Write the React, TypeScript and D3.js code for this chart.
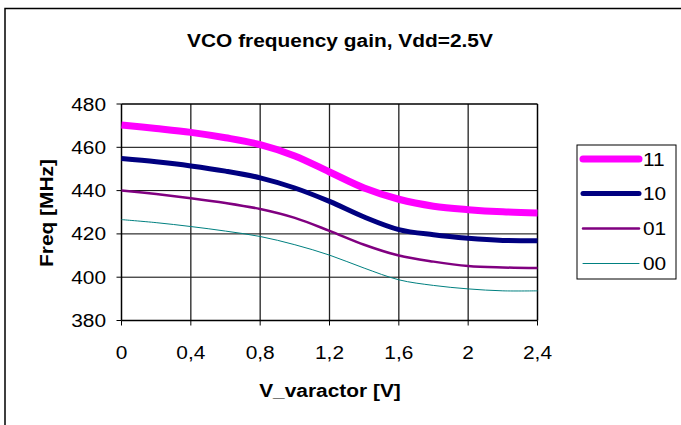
import * as d3 from 'd3';

const volts = [0, 0.2, 0.4, 0.6, 0.8, 1.0, 1.2, 1.4, 1.6, 1.8, 2.0, 2.2, 2.4];
const f11 = [470.3, 468.7, 466.9, 464.4, 461.2, 456.0, 448.6, 441.2, 436.0, 432.8, 431.2, 430.2, 429.7];
const f10 = [454.8, 453.3, 451.4, 449.0, 445.9, 441.2, 435.0, 427.8, 422.0, 419.6, 418.0, 417.0, 416.8];
const f01 = [440.0, 438.4, 436.5, 434.3, 431.5, 427.4, 421.4, 415.0, 410.0, 407.2, 405.2, 404.5, 404.2];
const f00 = [426.6, 425.2, 423.4, 421.3, 418.8, 415.0, 410.2, 404.2, 398.8, 396.2, 394.6, 393.7, 393.7];

const xTicks = [0, 0.4, 0.8, 1.2, 1.6, 2.0, 2.4];
const xTickLabels = ['0', '0,4', '0,8', '1,2', '1,6', '2', '2,4'];
const yTicks = [380, 400, 420, 440, 460, 480];

const series = [
  { name: '11', values: f11, color: '#ff00ff', width: 7 },
  { name: '10', values: f10, color: '#000080', width: 5 },
  { name: '01', values: f01, color: '#800080', width: 2.5 },
  { name: '00', values: f00, color: '#008080', width: 1 },
];

const W = 681;
const H = 425;
const plot = { left: 121.5, right: 537.5, top: 104, bottom: 320.5 };
const FONT = 'Liberation Sans, Arial, sans-serif';
const FS = 18.5;
const SX = 1.13;

function Label(props: {
  x: number;
  y: number;
  text: string;
  anchor?: string;
  bold?: boolean;
  rotate?: number;
}) {
  const { x, y, text, anchor = 'start', bold = false, rotate = 0 } = props;
  return (
    <text
      transform={`translate(${x},${y}) rotate(${rotate}) scale(${SX},1)`}
      textAnchor={anchor}
      fontFamily={FONT}
      fontSize={FS}
      fontWeight={bold ? 'bold' : 'normal'}
      fill="#000"
    >
      {text}
    </text>
  );
}

export default function App() {
  const x = d3.scaleLinear().domain([0, 2.4]).range([plot.left, plot.right]);
  const y = d3.scaleLinear().domain([380, 480]).range([plot.bottom, plot.top]);

  const line = d3
    .line<number>()
    .x((_, i) => x(volts[i]))
    .y((d) => y(d))
    .curve(d3.curveCatmullRom.alpha(0.5));

  const legendRows = [159, 193.5, 228.5, 263.5];

  return (
    <svg
      width={W}
      height={H}
      style={{ position: 'absolute', left: 0, top: 0, background: '#fff' }}
    >
      {/* chart area border */}
      <rect x={5} y={8.5} width={700} height={500} fill="#fff" stroke="#000" strokeWidth={1.5} />

      <Label x={340} y={47} text="VCO frequency gain, Vdd=2.5V" anchor="middle" bold />

      {/* grid */}
      {yTicks.slice(1, -1).map((t) => (
        <line key={'h' + t} x1={plot.left} x2={plot.right} y1={y(t)} y2={y(t)} stroke="#000" strokeWidth={1} />
      ))}
      {xTicks.slice(1, -1).map((t) => (
        <line key={'v' + t} x1={x(t)} x2={x(t)} y1={plot.top} y2={plot.bottom} stroke="#222" strokeWidth={1.3} />
      ))}
      <line x1={plot.left} x2={plot.right} y1={plot.top} y2={plot.top} stroke="#000" strokeWidth={1.5} />
      <line x1={plot.right} x2={plot.right} y1={plot.top} y2={plot.bottom} stroke="#000" strokeWidth={1.5} />

      {/* axes */}
      <line x1={plot.left} x2={plot.left} y1={plot.top} y2={plot.bottom} stroke="#000" strokeWidth={1.5} />
      <line x1={plot.left} x2={plot.right} y1={plot.bottom} y2={plot.bottom} stroke="#000" strokeWidth={1.5} />
      {yTicks.map((t) => (
        <g key={'yt' + t}>
          <line x1={plot.left - 5} x2={plot.left} y1={y(t)} y2={y(t)} stroke="#000" strokeWidth={1} />
          <Label x={106} y={y(t) + 6.5} text={String(t)} anchor="end" />
        </g>
      ))}
      {xTicks.map((t, i) => (
        <g key={'xt' + t}>
          <line x1={x(t)} x2={x(t)} y1={plot.bottom} y2={plot.bottom + 5} stroke="#000" strokeWidth={1} />
          <Label x={x(t)} y={358.5} text={xTickLabels[i]} anchor="middle" />
        </g>
      ))}

      <Label x={330} y={397} text="V_varactor [V]" anchor="middle" bold />
      <Label x={52.5} y={213} text="Freq [MHz]" anchor="middle" bold rotate={-90} />

      {/* series */}
      {series.map((s) => (
        <path key={s.name} d={line(s.values) || ''} fill="none" stroke={s.color} strokeWidth={s.width} />
      ))}

      {/* legend */}
      <rect x={577} y={145} width={99} height={134} fill="#fff" stroke="#000" strokeWidth={1} />
      {series.map((s, i) => (
        <g key={'lg' + s.name}>
          <line
            x1={583}
            x2={639}
            y1={legendRows[i]}
            y2={legendRows[i]}
            stroke={s.color}
            strokeWidth={s.width}
            strokeLinecap="round"
          />
          <Label x={643} y={legendRows[i] + 6.5} text={s.name} />
        </g>
      ))}
    </svg>
  );
}
